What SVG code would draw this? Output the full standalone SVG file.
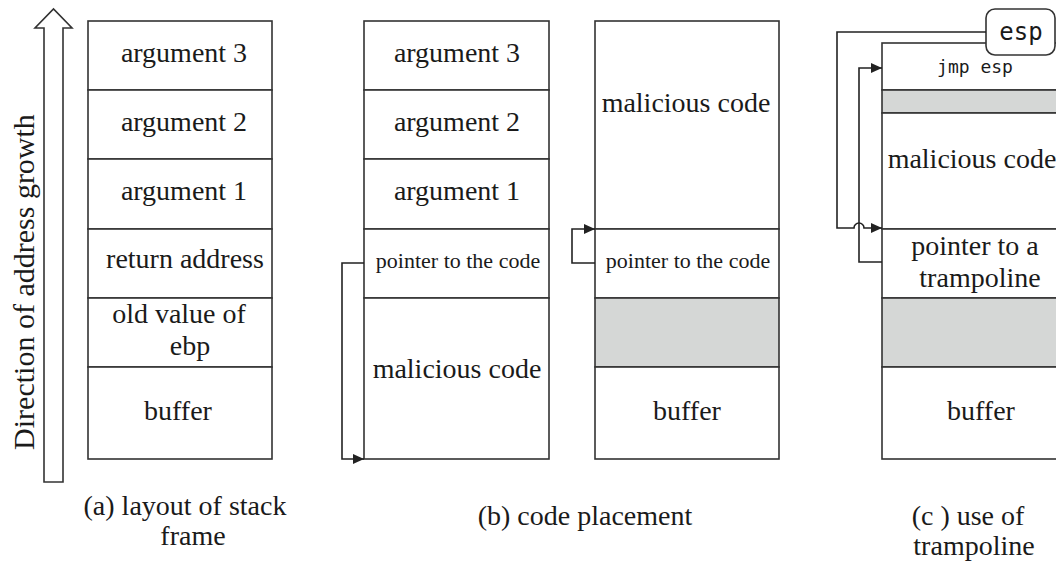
<svg xmlns="http://www.w3.org/2000/svg" width="1056" height="563" viewBox="0 0 1056 563">
<style>
.cell{fill:#fff;stroke:#333;stroke-width:1.6}
.gray{fill:#d5d7d6;stroke:#333;stroke-width:1.6}
.t{fill:#1a1a1a;text-anchor:middle}
.m{fill:#1a1a1a;text-anchor:middle}
.c{fill:none;stroke:#222;stroke-width:1.6}
</style>
<defs>
<marker id="ah" viewBox="0 0 11 10" refX="11" refY="5" markerWidth="11" markerHeight="10" markerUnits="userSpaceOnUse" orient="auto">
<path d="M0,0 L11,5 L0,10 z" fill="#222"/>
</marker>
</defs>
<rect width="1056" height="563" fill="#fff"/>

<g id="growth-arrow">
<polygon points="44,482 63,482 63,28 72,28 53.5,9 35,28 44,28" fill="#fff" stroke="#333" stroke-width="1.6"/>
<text class="t" transform="translate(34,282) rotate(-90)" style="font-family:'Liberation Serif',serif;font-size:30px">Direction of address growth</text>
</g>

<g id="a-arg3"><rect class="cell" x="88" y="21" width="184" height="69"/><text class="t" x="184" y="62" style="font-family:'Liberation Serif',serif;font-size:28px">argument 3</text></g>
<g id="a-arg2"><rect class="cell" x="88" y="90" width="184" height="69"/><text class="t" x="184" y="131" style="font-family:'Liberation Serif',serif;font-size:28px">argument 2</text></g>
<g id="a-arg1"><rect class="cell" x="88" y="159" width="184" height="70"/><text class="t" x="184" y="200" style="font-family:'Liberation Serif',serif;font-size:28px">argument 1</text></g>
<g id="a-ret"><rect class="cell" x="88" y="229" width="184" height="69"/><text class="t" x="185" y="268" style="font-family:'Liberation Serif',serif;font-size:28px">return address</text></g>
<g id="a-ebp"><rect class="cell" x="88" y="298" width="184" height="69"/><text class="t" x="179" y="323" style="font-family:'Liberation Serif',serif;font-size:28px">old value of</text><text class="t" x="190" y="355" style="font-family:'Liberation Serif',serif;font-size:28px">ebp</text></g>
<g id="a-buf"><rect class="cell" x="88" y="367" width="184" height="92"/><text class="t" x="178" y="420" style="font-family:'Liberation Serif',serif;font-size:28px">buffer</text></g>
<g id="a-caption"><text class="t" x="185" y="515" style="font-family:'Liberation Serif',serif;font-size:28px">(a) layout of stack</text><text class="t" x="193" y="545" style="font-family:'Liberation Serif',serif;font-size:28px">frame</text></g>

<g id="b1-arg3"><rect class="cell" x="364" y="21" width="185" height="69"/><text class="t" x="457" y="62" style="font-family:'Liberation Serif',serif;font-size:28px">argument 3</text></g>
<g id="b1-arg2"><rect class="cell" x="364" y="90" width="185" height="69"/><text class="t" x="457" y="131" style="font-family:'Liberation Serif',serif;font-size:28px">argument 2</text></g>
<g id="b1-arg1"><rect class="cell" x="364" y="159" width="185" height="70"/><text class="t" x="457" y="200" style="font-family:'Liberation Serif',serif;font-size:28px">argument 1</text></g>
<g id="b1-ptr"><rect class="cell" x="364" y="229" width="185" height="69"/><text class="t" x="458" y="268" style="font-family:'Liberation Serif',serif;font-size:22px">pointer to the code</text></g>
<g id="b1-mal"><rect class="cell" x="364" y="298" width="185" height="161"/><text class="t" x="457" y="378" style="font-family:'Liberation Serif',serif;font-size:28px">malicious code</text></g>

<g id="b2-mal"><rect class="cell" x="595" y="21" width="184" height="208"/><text class="t" x="686" y="112" style="font-family:'Liberation Serif',serif;font-size:28px">malicious code</text></g>
<g id="b2-ptr"><rect class="cell" x="595" y="229" width="184" height="69"/><text class="t" x="688" y="268" style="font-family:'Liberation Serif',serif;font-size:22px">pointer to the code</text></g>
<g id="b2-gray"><rect class="gray" x="595" y="298" width="184" height="69"/></g>
<g id="b2-buf"><rect class="cell" x="595" y="367" width="184" height="92"/><text class="t" x="687" y="420" style="font-family:'Liberation Serif',serif;font-size:28px">buffer</text></g>
<g id="b-caption"><text class="t" x="585" y="525" style="font-family:'Liberation Serif',serif;font-size:28px">(b) code placement</text></g>

<g id="c-jmp"><rect class="cell" x="882" y="43" width="184" height="47"/><text class="m" x="975" y="73" style="font-family:'DejaVu Sans Mono',monospace;font-size:18px">jmp esp</text></g>
<g id="c-gray1"><rect class="gray" x="882" y="90" width="184" height="23"/></g>
<g id="c-mal"><rect class="cell" x="882" y="113" width="184" height="116"/><text class="t" x="972" y="168" style="font-family:'Liberation Serif',serif;font-size:28px">malicious code</text></g>
<g id="c-ptr"><rect class="cell" x="882" y="229" width="184" height="69"/><text class="t" x="975" y="255" style="font-family:'Liberation Serif',serif;font-size:28px">pointer to a</text><text class="t" x="980" y="287" style="font-family:'Liberation Serif',serif;font-size:28px">trampoline</text></g>
<g id="c-gray2"><rect class="gray" x="882" y="298" width="184" height="69"/></g>
<g id="c-buf"><rect class="cell" x="882" y="367" width="184" height="92"/><text class="t" x="981" y="420" style="font-family:'Liberation Serif',serif;font-size:28px">buffer</text></g>
<g id="c-esp"><rect x="986" y="9" width="69" height="46" rx="9" ry="9" fill="#fff" stroke="#333" stroke-width="1.6"/><text class="m" x="1021" y="40" style="font-family:'DejaVu Sans Mono',monospace;font-size:24px">esp</text></g>
<g id="c-caption"><text class="t" x="968" y="525" style="font-family:'Liberation Serif',serif;font-size:28px">(c ) use of</text><text class="t" x="974" y="555" style="font-family:'Liberation Serif',serif;font-size:28px">trampoline</text></g>

<g id="connectors">
<path class="c" d="M364,263 H342 V459 H364" marker-end="url(#ah)"/>
<path class="c" d="M595,263 H572 V229 H595" marker-end="url(#ah)"/>
<path class="c" d="M986,32 H837 V228 H854 A5,5 0 0 1 864,228 H882" marker-end="url(#ah)"/>
<path class="c" d="M882,262 H859 V68 H882" marker-end="url(#ah)"/>
</g>
</svg>
